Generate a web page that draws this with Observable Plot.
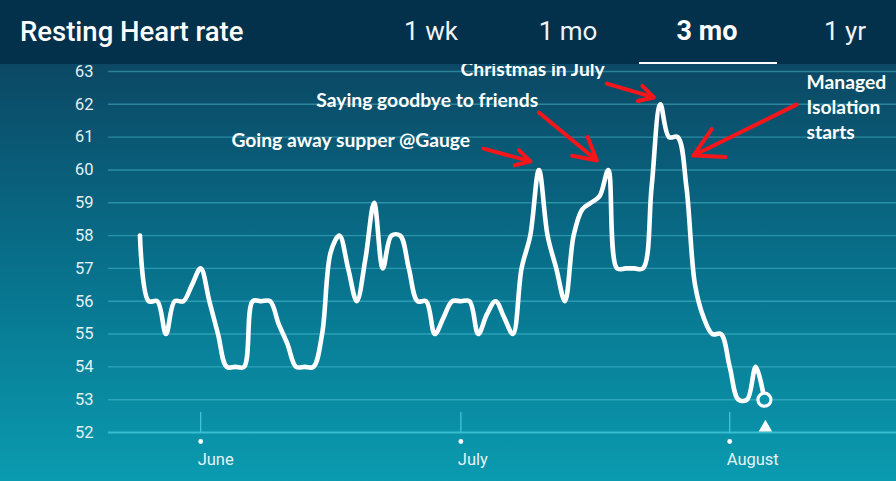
<!DOCTYPE html>
<html>
<head>
<meta charset="utf-8">
<script src="https://cdn.jsdelivr.net/npm/d3@7"></script>
<script src="https://cdn.jsdelivr.net/npm/@observablehq/plot@0.6"></script>
<style>
  html, body { margin: 0; padding: 0; }
  body { width: 896px; height: 481px; overflow: hidden; }
  #wrap {
    position: relative; width: 896px; height: 481px;
    background: linear-gradient(to bottom, #0b4864 0px, #0b4864 64px, #086f8a 260px, #0a9bb0 481px);
    font-family: Roboto, "Noto Sans", sans-serif;
  }
  #header {
    position: absolute; left: 0; top: 0; width: 896px; height: 64px;
    background: #03304b; z-index: 2; color: #fff;
  }
  #header span { position: absolute; top: 31px; transform: translateY(-50%); white-space: nowrap; }
  #title { left: 20px; font-weight: 500; font-size: 27.5px; }
  .tab { transform: translate(-50%, -50%) !important; font-weight: 400; color: #eef4f7; font-size: 26px; }
  .tab.active { font-weight: 700; color: #fff; font-size: 27px; }
  #underline { position: absolute; left: 639px; top: 62px; width: 138px; height: 2px; background: #fff; z-index: 3; }
  #chart { position: absolute; left: 0; top: 0; }
</style>
</head>
<body>
<div id="wrap">
  <div id="header">
    <span id="title">Resting Heart rate</span>
    <span class="tab" style="left:431px">1 wk</span>
    <span class="tab" style="left:568px">1 mo</span>
    <span class="tab active" style="left:707px">3 mo</span>
    <span class="tab" style="left:845px">1 yr</span>
  </div>
  <div id="underline"></div>
  <div id="chart"></div>
</div>
<script>
// ---- data ----
const startDate = "2020-05-25";
const endDate = "2020-08-06"; // exclusive
const restingHR = [
  58,56,56,55,56,56,56.5,
  57,56,55,54,54,54,56,56,56,55.3,
  54.7,54,54,54,55,57.5,58,57,56,57.3,
  59,57,58,58,57,56,56,55,55.5,56,
  56,56,55,55.6,56,55.5,55,57,58,60,
  58,57,56,58,58.8,59,59.2,60,57,57,
  57,57,59.5,62,61,61,59.5,56.5,55.5,55,
  55,54,53,53,54,53
];
const yTicks = [52,53,54,55,56,57,58,59,60,61,62,63];
const monthTicks = ["2020-06-01","2020-07-01","2020-08-01"];
const monthLabels = ["June","July","August"];
const noteTexts = ["Going away supper @Gauge","Saying goodbye to friends","Christmas in July","Managed\nIsolation\nstarts"];
const noteX = ["2020-06-04T13:00Z","2020-06-14T08:00Z","2020-06-30T23:00Z","2020-08-09T20:30Z"];
const noteY = [60.95, 62.17, 63.12, 61.95];
const arrowX1 = ["2020-07-03T15:00Z","2020-07-10T00:00Z","2020-07-17T20:00Z","2020-08-08T16:50Z"];
const arrowY1 = [60.65, 61.75, 62.63, 61.99];
const arrowX2 = ["2020-07-09T00:45Z","2020-07-16T16:20Z","2020-07-23T06:00Z","2020-07-27T19:40Z"];
const arrowY2 = [60.26, 60.29, 62.21, 60.44];

// ---- tables ----
const days = d3.utcDays(new Date(startDate), new Date(endDate));
const series = days.map((d, i) => ({date: d, value: restingHR[i]}));
const last = [series[series.length - 1]];
const months = monthTicks.map((d, i) => ({date: new Date(d), label: monthLabels[i]}));
const notes = noteTexts.map((t, i) => ({x: new Date(noteX[i]), y: noteY[i], text: t}));
const arrows = arrowX1.map((d, i) => ({x1: new Date(d), y1: arrowY1[i], x2: new Date(arrowX2[i]), y2: arrowY2[i]}));

const chart = Plot.plot({
  width: 896,
  height: 481,
  marginLeft: 96.1,
  marginRight: 2,
  marginTop: 71,
  marginBottom: 49,
  style: {background: "transparent", overflow: "visible", fontFamily: "Roboto, sans-serif"},
  x: {type: "utc", domain: [new Date("2020-05-20"), new Date("2020-08-20")], axis: null},
  y: {domain: [52, 63], axis: null},
  marks: [
    Plot.ruleY(yTicks.filter(d => d !== 52), {y: d => d, stroke: "#5ccfe2", strokeOpacity: 0.42, strokeWidth: 1.4, insetLeft: 12, insetRight: -2}),
    Plot.ruleY([52], {stroke: "#3fc6d8", strokeOpacity: 0.85, strokeWidth: 2, insetLeft: 12, insetRight: -2}),
    Plot.axisY({ticks: yTicks, tickSize: 0, tickPadding: 3, tickFormat: d => String(d), fontSize: 16.5, fill: "#e2f1f4", stroke: null}),
    Plot.ruleX(months, {x: "date", y1: 52, y2: 52, insetTop: -20, stroke: "#45c9db", strokeWidth: 1.2}),
    Plot.dot(months, {x: "date", y: 52, dy: 9, r: 2.4, fill: "#ffffff", stroke: null}),
    Plot.text(months, {x: "date", y: 52, dy: 27, text: "label", textAnchor: "start", dx: -3, fontSize: 16.5, fill: "#e6f3f6"}),
    Plot.line(series, {x: "date", y: "value", curve: "catmull-rom", stroke: "#ffffff", strokeWidth: 4.6, strokeLinejoin: "round", strokeLinecap: "round"}),
    Plot.dot(last, {x: "date", y: "value", r: 6.5, stroke: "#ffffff", strokeWidth: 3.2, fill: "#0a93aa"}),
    Plot.dot(last, {x: "date", y: 52, dy: -5, dx: 1, symbol: "triangle", r: 5, fill: "#ffffff", stroke: null}),
    Plot.arrow(arrows, {x1: "x1", y1: "y1", x2: "x2", y2: "y2", stroke: "#f4161b", strokeWidth: 4, headLength: 12, headAngle: 58, strokeLinejoin: "miter"}),
    Plot.text(notes, {x: "x", y: "y", text: "text", textAnchor: "start", lineAnchor: "middle", lineHeight: 1.3, fontSize: 19.3, fontWeight: 700, fontFamily: "Lato, 'Open Sans', sans-serif", fill: "#ffffff"})
  ]
});
document.getElementById("chart").appendChild(chart);
</script>
</body>
</html>
